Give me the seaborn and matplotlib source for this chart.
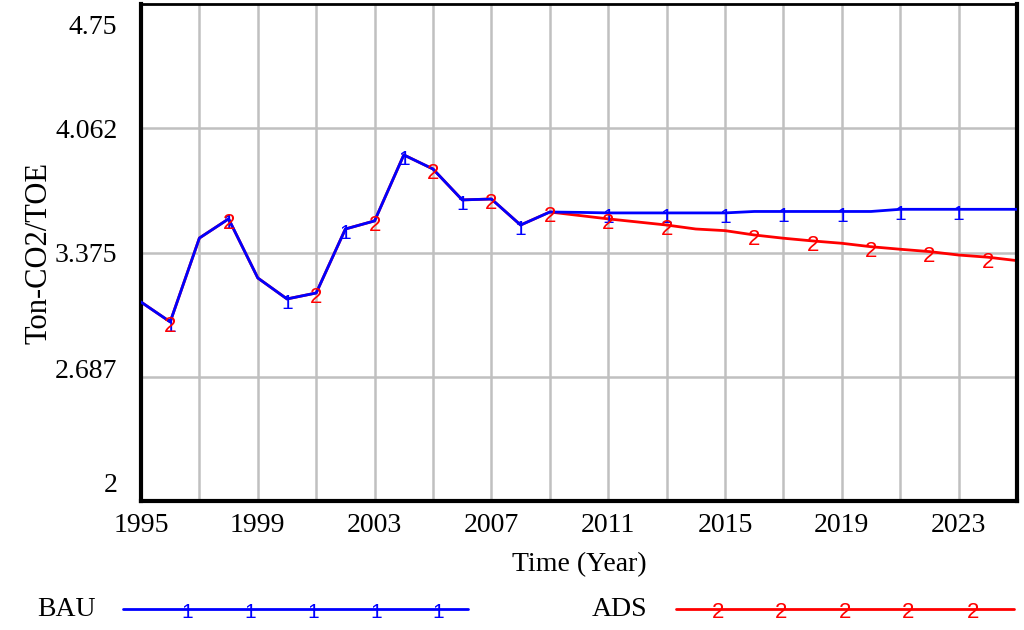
import numpy as np
import matplotlib
matplotlib.use("Agg")
import matplotlib.pyplot as plt
import matplotlib.transforms as mtransforms
import seaborn as sns
from matplotlib.lines import Line2D

# data
years = list(range(1995, 2026))
bau = [3.101, 2.991, 3.455, 3.561, 3.234, 3.118, 3.151, 3.505, 3.550, 3.915,
       3.837, 3.666, 3.671, 3.527, 3.599, 3.597, 3.594, 3.594, 3.594, 3.594,
       3.594, 3.602, 3.602, 3.602, 3.602, 3.602, 3.614, 3.614, 3.614, 3.614,
       3.614]
ads = [3.101, 2.991, 3.455, 3.561, 3.234, 3.118, 3.151, 3.505, 3.550, 3.915,
       3.837, 3.666, 3.671, 3.527, 3.599, 3.580, 3.561, 3.544, 3.527, 3.505,
       3.496, 3.472, 3.454, 3.439, 3.426, 3.407, 3.393, 3.380, 3.361, 3.349,
       3.330]
bau_mark_years = [1996, 1998, 2000, 2002, 2004, 2006, 2008, 2011, 2013, 2015,
                  2017, 2019, 2021, 2023]
ads_mark_years = [1996, 1998, 2001, 2003, 2005, 2007, 2009, 2011, 2013, 2016,
                  2018, 2020, 2022, 2024]
y_ticks = [2, 2.687, 3.375, 4.062, 4.75]
y_tick_labels = ["2", "2.687", "3.375", "4.062", "4.75"]
x_ticks = list(range(1995, 2024, 4))
x_grid = list(range(1997, 2025, 2))

sns.set_style("white")
plt.rcParams['font.family'] = ['Liberation Serif', 'DejaVu Serif']
for key in ['text.color', 'axes.labelcolor', 'xtick.color', 'ytick.color']:
    plt.rcParams[key] = 'black'

fig = plt.figure(figsize=(10.24, 6.3), dpi=100)
ax = fig.add_axes([141 / 1024, 1 - 501 / 630, 876 / 1024, 497 / 630])

ax.set_xlim(1995, 2025)
ax.set_ylim(2, 4.75)

# grid
for gx in x_grid:
    ax.axvline(gx, color='#c0c0c0', lw=1.8, zorder=0)
for gy in y_ticks[1:-1]:
    ax.axhline(gy, color='#c0c0c0', lw=1.8, zorder=0)

sns.lineplot(x=years, y=ads, color='red', lw=2, ax=ax, zorder=2)
sns.lineplot(x=years, y=bau, color='blue', lw=2, ax=ax, zorder=3)

for yr in bau_mark_years:
    ax.annotate('1', (yr, np.interp(yr, years, bau)), xytext=(0, -3.5),
                textcoords='offset points', color='blue', zorder=4,
                family='Liberation Sans', fontsize=15, ha='center', va='center')
for yr in ads_mark_years:
    ax.annotate('2', (yr, np.interp(yr, years, ads)), xytext=(0, -3.5),
                textcoords='offset points', color='red', zorder=5,
                family='Liberation Sans', fontsize=16, ha='center', va='center')

ax.set_yticks(y_ticks)
ax.set_yticklabels(y_tick_labels, fontsize=20)
ax.set_xticks(x_ticks)
ax.set_xticklabels([str(x) for x in x_ticks], fontsize=20)
ax.tick_params(axis='y', length=0, pad=17)
ax.tick_params(axis='x', length=0, pad=9)

# vensim-style nudges of the edge labels (pixels, + = up)
label_shift = [19, 8, 0, 0, -20]
for lab, dy in zip(ax.get_yticklabels(), label_shift):
    lab.set_transform(lab.get_transform() +
                      mtransforms.ScaledTranslation(0, dy / 100, fig.dpi_scale_trans))

ax.set_xlabel('Time (Year)', fontsize=20, labelpad=10)
ax.set_ylabel('Ton-CO2/TOE', fontsize=22, labelpad=1)

for name, s in ax.spines.items():
    s.set_color('black')
    s.set_linewidth(3 if name != 'top' else 2)

# legend along the bottom
ly = 1 - 609 / 630
fig.text(37 / 1024, ly, 'BAU', fontsize=20, va='center', ha='left')
fig.add_artist(Line2D([123 / 1024, 468 / 1024], [ly, ly], color='blue', lw=2))
for px in [187, 250, 313, 376, 438]:
    fig.text(px / 1024, ly - 3 / 630, '1', color='blue', fontsize=15,
             family='Liberation Sans', ha='center', va='center')
fig.text(592 / 1024, ly, 'ADS', fontsize=20, va='center', ha='left')
fig.add_artist(Line2D([676 / 1024, 1014 / 1024], [ly, ly], color='red', lw=2))
for px in [718, 781, 845, 908, 973]:
    fig.text(px / 1024, ly - 4 / 630, '2', color='red', fontsize=16,
             family='Liberation Sans', ha='center', va='center')

plt.savefig('out.png', dpi=100)
